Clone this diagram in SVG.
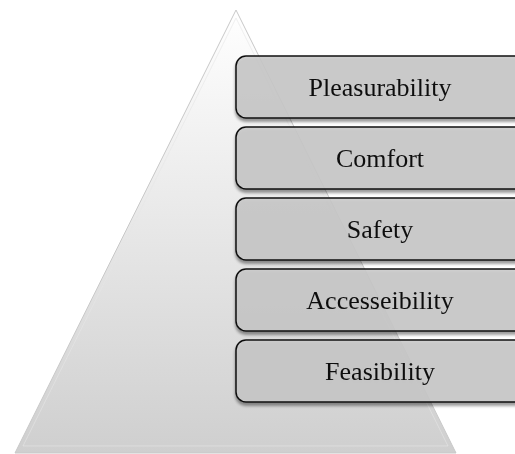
<svg xmlns="http://www.w3.org/2000/svg" width="515" height="454" viewBox="0 0 515 454">
<defs>
<linearGradient id="tri" x1="0" y1="0" x2="0" y2="1">
<stop offset="0" stop-color="#ffffff"/>
<stop offset="1" stop-color="#cfcfcf"/>
</linearGradient>
<filter id="sh" x="-10%" y="-20%" width="120%" height="150%">
<feGaussianBlur in="SourceAlpha" stdDeviation="1.5"/>
<feOffset dx="0" dy="3" result="b"/>
<feComponentTransfer><feFuncA type="linear" slope="0.45"/></feComponentTransfer>
<feMerge><feMergeNode/><feMergeNode in="SourceGraphic"/></feMerge>
</filter>
</defs>
<style>
.box{fill:#c9c9c9;fill-opacity:0.86;stroke:#111;stroke-width:1.5;}
.lbl{font-family:"Liberation Serif","Times New Roman",serif;font-size:26px;fill:#111;text-anchor:middle;}
</style>
<rect width="515" height="454" fill="#ffffff"/>
<g id="pyramid">
<polygon points="236,10 456,453 15,453" fill="url(#tri)" stroke="#c8c8c8" stroke-width="1"/>
<polygon points="236,18 448,446 23,446" fill="none" stroke="#e6e6e6" stroke-width="1" opacity="0.6"/>
</g>
<g id="n1" filter="url(#sh)"><rect class="box" x="236" y="56" width="290" height="62" rx="10"/><text class="lbl" x="380" y="95.5">Pleasurability</text></g>
<g id="n2" filter="url(#sh)"><rect class="box" x="236" y="127" width="290" height="62" rx="10"/><text class="lbl" x="380" y="166.5">Comfort</text></g>
<g id="n3" filter="url(#sh)"><rect class="box" x="236" y="198" width="290" height="62" rx="10"/><text class="lbl" x="380" y="237.5">Safety</text></g>
<g id="n4" filter="url(#sh)"><rect class="box" x="236" y="269" width="290" height="62" rx="10"/><text class="lbl" x="380" y="308.5">Accesseibility</text></g>
<g id="n5" filter="url(#sh)"><rect class="box" x="236" y="340" width="290" height="62" rx="10"/><text class="lbl" x="380" y="379.5">Feasibility</text></g>
<g id="connectors"/>
</svg>
